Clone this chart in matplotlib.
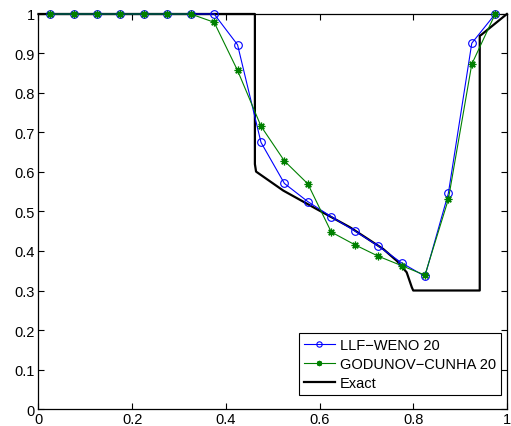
import matplotlib
matplotlib.use("Agg")
import matplotlib.pyplot as plt

plt.rcParams['font.family'] = ['Liberation Sans', 'DejaVu Sans']

# cell centres
x_cells = [0.025, 0.075, 0.125, 0.175, 0.225, 0.275, 0.325, 0.375, 0.425, 0.475,
           0.525, 0.575, 0.625, 0.675, 0.725, 0.775, 0.825, 0.875, 0.925, 0.975]

llf_weno = [1.0, 1.0, 1.0, 1.0, 1.0, 1.0, 1.0, 1.0, 0.922, 0.675,
            0.571, 0.525, 0.487, 0.451, 0.413, 0.370, 0.336, 0.546, 0.926, 1.0]

godunov_cunha = [1.0, 1.0, 1.0, 1.0, 1.0, 1.0, 1.0, 0.979, 0.857, 0.716,
                 0.628, 0.570, 0.448, 0.416, 0.387, 0.363, 0.339, 0.531, 0.873, 1.0]

# reference solution
x_exact = [0.0, 0.462, 0.462, 0.4645, 0.5225, 0.594, 0.665, 0.736, 0.765, 0.786,
           0.797, 0.800, 0.942, 0.942, 0.945, 1.0]
u_exact = [1.0, 1.0, 0.62, 0.601, 0.553, 0.506, 0.460, 0.405, 0.375, 0.346,
           0.308, 0.300, 0.300, 0.945, 0.947, 1.0]

FS = 10.5

fig = plt.figure(figsize=(5.11, 4.27), dpi=100)
ax = fig.add_axes([0.0753, 0.0398, 0.9167, 0.9251])

asterisk = (8, 2, 0)
ax.plot(x_cells, llf_weno, color=(0, 0, 1), lw=0.8, marker='o', ms=5.5,
        mfc='none', mec=(0, 0, 1), mew=0.8, label='LLF\u2212WENO 20', clip_on=False, zorder=3)
ax.plot(x_cells, godunov_cunha, color=(0, 0.5, 0), lw=0.8, marker=asterisk, ms=5.5,
        mfc=(0, 0.5, 0), mec=(0, 0.5, 0), mew=0.9, label='GODUNOV\u2212CUNHA 20', clip_on=False, zorder=3)
ax.plot(x_exact, u_exact, color='black', lw=1.6, label='Exact', clip_on=False, zorder=2)

ax.set_xlim(0, 1)
ax.set_ylim(0, 1)
ax.set_xticks([0, 0.2, 0.4, 0.6, 0.8, 1.0])
ax.set_xticklabels(['0', '0.2', '0.4', '0.6', '0.8', '1'])
ax.set_yticks([i / 10 for i in range(11)])
ax.set_yticklabels(['0'] + ['0.%d' % i for i in range(1, 10)] + ['1'])
ax.tick_params(direction='in', top=True, right=True, length=4, width=0.8,
               labelsize=FS, pad=2.5)
for s in ax.spines.values():
    s.set_linewidth(0.9)

leg = ax.legend(loc='lower right', bbox_to_anchor=(501 / 511, 31 / 427),
                bbox_transform=fig.transFigure, fontsize=FS, frameon=True,
                fancybox=False, edgecolor='black', framealpha=1, borderpad=0.35,
                labelspacing=0.33, handlelength=2.1, handletextpad=0.35,
                borderaxespad=0, markerscale=0.7)
leg.get_frame().set_linewidth(0.8)

fig.savefig('out.png', dpi=100)
